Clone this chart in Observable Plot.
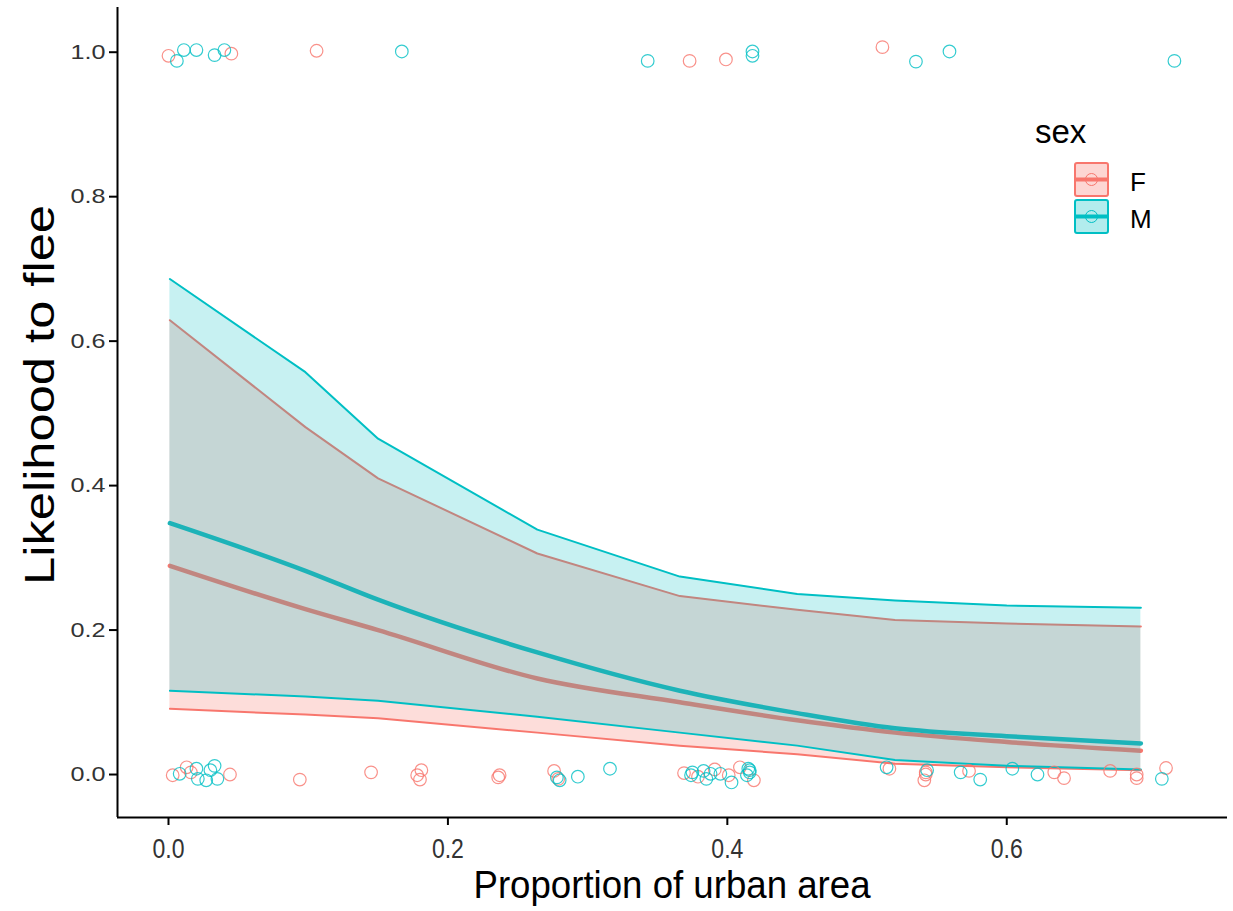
<!DOCTYPE html>
<html>
<head>
<meta charset="utf-8">
<script src="https://cdn.jsdelivr.net/npm/d3@7"></script>
<script src="https://cdn.jsdelivr.net/npm/@observablehq/plot@0.6"></script>
<style>
  html, body { margin: 0; padding: 0; background: #fff; }
  #wrap { position: relative; width: 1233px; height: 911px; }
  #overlay { position: absolute; left: 0; top: 0; pointer-events: none; }
</style>
</head>
<body>
<div id="wrap"><div id="chart"></div></div>
<script>
// ---- data ----
const sexes = ["F", "M"];
const sexColors = ["#F8766D", "#00BFC4"];

// effect-curve evaluation points (proportion of urban area)
const gridX = [0.001, 0.098, 0.150, 0.264, 0.366, 0.450, 0.520, 0.600, 0.696];
const fitF = [0.289, 0.229, 0.200, 0.133, 0.100, 0.075, 0.058, 0.045, 0.033];
const lowF = [0.091, 0.083, 0.078, 0.058, 0.040, 0.028, 0.015, 0.010, 0.006];
const uppF = [0.629, 0.481, 0.410, 0.306, 0.247, 0.228, 0.214, 0.209, 0.205];
const fitM = [0.348, 0.282, 0.242, 0.169, 0.116, 0.085, 0.064, 0.053, 0.043];
const lowM = [0.116, 0.108, 0.102, 0.080, 0.058, 0.040, 0.020, 0.012, 0.007];
const uppM = [0.686, 0.557, 0.465, 0.339, 0.274, 0.250, 0.241, 0.234, 0.231];

// jittered raw observations
const obsFx = [0.000, 0.045, 0.106, 0.373, 0.399, 0.511,
  0.003, 0.013, 0.016, 0.044, 0.094, 0.145, 0.178, 0.181, 0.180, 0.236, 0.237, 0.276, 0.279,
  0.369, 0.379, 0.391, 0.401, 0.409, 0.419, 0.516, 0.542, 0.541, 0.542, 0.573, 0.634, 0.641,
  0.674, 0.693, 0.693, 0.714];
const obsFy = [0.995, 0.998, 1.002, 0.988, 0.990, 1.007,
  -0.001, 0.010, 0.003, 0.000, -0.007, 0.003, -0.001, 0.006, -0.007, -0.004, -0.001, 0.005, -0.006,
  0.002, -0.003, 0.007, -0.001, 0.010, -0.008, 0.008, 0.003, -0.008, 0.000, 0.005, 0.003, -0.005,
  0.005, 0.000, -0.005, 0.009];
const obsMx = [0.006, 0.011, 0.020, 0.033, 0.040, 0.167, 0.343, 0.418, 0.418, 0.535, 0.559, 0.720,
  0.008, 0.020, 0.021, 0.027, 0.030, 0.033, 0.035, 0.278, 0.280, 0.293, 0.316,
  0.374, 0.375, 0.383, 0.385, 0.388, 0.395, 0.403, 0.415, 0.416, 0.416, 0.414,
  0.514, 0.543, 0.567, 0.581, 0.604, 0.622, 0.711];
const obsMy = [0.988, 1.003, 1.003, 0.996, 1.003, 1.001, 0.988, 1.001, 0.995, 0.987, 1.001, 0.988,
  0.001, 0.008, -0.006, -0.008, 0.006, 0.012, -0.006, -0.004, -0.008, -0.003, 0.008,
  -0.001, 0.003, 0.005, -0.006, 0.001, 0.001, -0.011, 0.008, 0.003, 0.006, -0.001,
  0.010, 0.006, 0.003, -0.007, 0.008, 0.000, -0.006];

const xTicks = [0, 0.2, 0.4, 0.6];
const yTicks = [0, 0.2, 0.4, 0.6, 0.8, 1.0];
const xTitle = "Proportion of urban area";
const yTitle = "Likelihood to flee";
const legendTitle = "sex";

// ---- build tables ----
const curveF = gridX.map((x, i) => ({x, fit: fitF[i], low: lowF[i], upp: uppF[i]}));
const curveM = gridX.map((x, i) => ({x, fit: fitM[i], low: lowM[i], upp: uppM[i]}));
const obsF = obsFx.map((x, i) => ({x, y: obsFy[i]}));
const obsM = obsMx.map((x, i) => ({x, y: obsMy[i]}));

const [cF, cM] = sexColors;
const font = '"Liberation Sans", Arial, sans-serif';
const xDomain = [-0.0365, 0.758];
const yDomain = [-0.0595, 1.0619];

const chart = Plot.plot({
  width: 1233,
  height: 911,
  marginLeft: 117,
  marginRight: 6,
  marginTop: 7,
  marginBottom: 94,
  style: {fontFamily: font, background: "#fff", color: "#000", fontSize: "20px"},
  x: {domain: xDomain},
  y: {domain: yDomain},
  marks: [
    // F ribbon + lines
    Plot.areaY(curveF, {x: "x", y1: "low", y2: "upp", fill: cF, fillOpacity: 0.25}),
    Plot.lineY(curveF, {x: "x", y: "upp", stroke: cF, strokeWidth: 2}),
    Plot.lineY(curveF, {x: "x", y: "low", stroke: cF, strokeWidth: 2}),
    Plot.lineY(curveF, {x: "x", y: "fit", stroke: cF, strokeWidth: 4.5, curve: "monotone-x"}),
    // M ribbon + lines
    Plot.areaY(curveM, {x: "x", y1: "low", y2: "upp", fill: cM, fillOpacity: 0.22}),
    Plot.lineY(curveM, {x: "x", y: "upp", stroke: cM, strokeWidth: 2}),
    Plot.lineY(curveM, {x: "x", y: "low", stroke: cM, strokeWidth: 2}),
    Plot.lineY(curveM, {x: "x", y: "fit", stroke: "#1db3b8", strokeWidth: 4.5, curve: "monotone-x"}),
    // observations
    Plot.dot(obsF, {x: "x", y: "y", r: 6.3, stroke: cF, strokeWidth: 1.2, strokeOpacity: 0.8, fill: "none"}),
    Plot.dot(obsM, {x: "x", y: "y", r: 6.3, stroke: cM, strokeWidth: 1.2, strokeOpacity: 0.8, fill: "none"}),
    // axis lines (at the scale domain edges)
    Plot.ruleY([yDomain[0]], {stroke: "#000", strokeWidth: 2}),
    Plot.ruleX([xDomain[0]], {stroke: "#000", strokeWidth: 2}),
    // axes
    Plot.axisX({ticks: xTicks, tickFormat: d3.format(".1f"), tickSize: 8, tickPadding: 13,
      label: null, stroke: "#000", strokeWidth: 2, fill: "#333"}),
    Plot.axisY({ticks: yTicks, tickFormat: d3.format(".1f"), tickSize: 8, tickPadding: 4,
      label: null, stroke: "#000", strokeWidth: 2, fill: "#333"})
  ]
});
// tick label sizing to match the reference glyph proportions
chart.querySelectorAll('g[aria-label="x-axis tick label"]').forEach(g => {
  g.setAttribute("font-size", 28);
  g.querySelectorAll("text").forEach(t => { t.setAttribute("textLength", 32); t.setAttribute("lengthAdjust", "spacingAndGlyphs"); });
});
chart.querySelectorAll('g[aria-label="y-axis tick label"]').forEach(g => {
  g.setAttribute("font-size", 21);
  g.querySelectorAll("text").forEach(t => { t.setAttribute("textLength", 35); t.setAttribute("lengthAdjust", "spacingAndGlyphs"); });
});
document.getElementById("chart").appendChild(chart);

// ---- titles + legend overlay ----
const ns = "http://www.w3.org/2000/svg";
const ov = document.createElementNS(ns, "svg");
ov.setAttribute("id", "overlay");
ov.setAttribute("width", 1233);
ov.setAttribute("height", 911);
ov.setAttribute("font-family", font);
let html = `
  <text x="672" y="898" font-size="38" text-anchor="middle" textLength="397" lengthAdjust="spacingAndGlyphs" fill="#000">${xTitle}</text>
  <text transform="translate(54,395) rotate(-90)" font-size="42" text-anchor="middle" textLength="380" lengthAdjust="spacingAndGlyphs" fill="#000">${yTitle}</text>
  <text x="1035" y="143" font-size="33" fill="#000">${legendTitle}</text>`;
sexes.forEach((s, i) => {
  const col = sexColors[i];
  const y0 = 163 + i * 37;
  html += `<rect x="1075" y="${y0}" width="33" height="33" rx="2" fill="${col}" fill-opacity="0.3" stroke="${col}" stroke-width="2"/>
    <line x1="1075" x2="1108" y1="${y0 + 16.5}" y2="${y0 + 16.5}" stroke="${col}" stroke-width="4"/>
    <circle cx="1091.5" cy="${y0 + 16.5}" r="6" fill="none" stroke="${col}" stroke-width="1"/>
    <text x="1130" y="${y0 + 28}" font-size="26" fill="#000">${s}</text>`;
});
ov.innerHTML = html;
document.getElementById("wrap").appendChild(ov);
</script>
</body>
</html>
